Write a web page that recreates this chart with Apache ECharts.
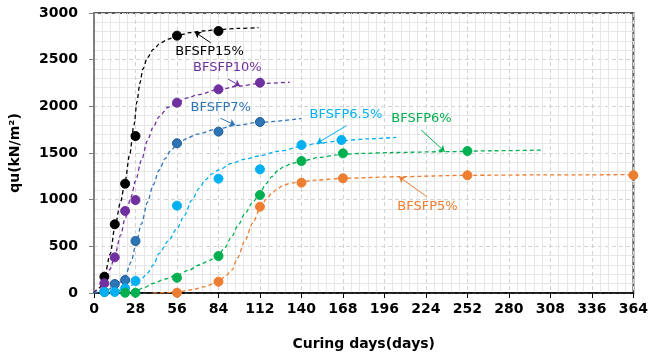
<!DOCTYPE html>
<html>
<head>
<meta charset="utf-8">
<script src="https://cdn.jsdelivr.net/npm/echarts@6/dist/echarts.min.js"></script>
<style>html,body{margin:0;padding:0;background:#fff}#c{width:651px;height:356px}</style>
</head>
<body>
<div id="c"></div>
<script>
// ---- data ----
const xTicks = [0, 28, 56, 84, 112, 140, 168, 196, 224, 252, 280, 308, 336, 364];
const yTicks = [0, 500, 1000, 1500, 2000, 2500, 3000];
const seriesNames = ['BFSFP15%', 'BFSFP10%', 'BFSFP7%', 'BFSFP6.5%', 'BFSFP6%', 'BFSFP5%'];

// measured points [day, qu]
const pts15 = [[7, 175], [14, 736], [21, 1171], [28, 1682], [56, 2757], [84, 2807]];
const pts10 = [[7, 104], [14, 382], [21, 879], [28, 996], [56, 2039], [84, 2182], [112, 2253]];
const pts7 = [[7, 11], [14, 96], [21, 139], [28, 557], [56, 1604], [84, 1729], [112, 1832]];
const pts65 = [[7, 11], [14, 11], [21, 50], [28, 129], [56, 936], [84, 1225], [112, 1325], [140, 1586], [167, 1639]];
const pts6 = [[21, 3], [28, 3], [56, 164], [84, 396], [112, 1050], [140, 1414], [168, 1496], [252, 1521]];
const pts5 = [[56, 3], [84, 121], [112, 925], [140, 1182], [168, 1229], [252, 1261], [364, 1262]];

// fitted curves as drawn
const fit15 = [[0, 0], [4, 60], [7, 170], [11, 420], [14, 700], [18, 980], [21, 1200], [24, 1480], [27, 1800], [29, 2050], [31, 2250], [33, 2400], [36, 2520], [40, 2610], [45, 2680], [50, 2720], [56, 2755], [65, 2790], [75, 2810], [84, 2822], [98, 2835], [111, 2843]];
const fit10 = [[0, 0], [4, 50], [7, 120], [11, 260], [14, 400], [18, 620], [21, 800], [25, 1030], [28, 1200], [32, 1420], [36, 1630], [40, 1780], [44, 1890], [50, 1990], [56, 2040], [63, 2090], [70, 2125], [84, 2180], [98, 2218], [112, 2245], [132, 2258]];
const fit7 = [[0, 0], [7, 20], [14, 70], [18, 120], [21, 180], [25, 330], [28, 500], [32, 740], [36, 970], [40, 1160], [44, 1318], [48, 1440], [52, 1530], [56, 1590], [62, 1650], [69, 1700], [84, 1760], [95, 1795], [112, 1830], [140, 1870]];
const fit65 = [[7, 5], [14, 15], [21, 45], [28, 100], [32, 150], [36, 211], [40, 300], [44, 425], [50, 555], [56, 690], [61, 830], [66, 996], [71, 1120], [75, 1211], [80, 1280], [84, 1318], [93, 1389], [102, 1435], [111, 1468], [125, 1520], [140, 1570], [150, 1600], [167, 1632], [185, 1652], [204, 1668]];
const fit6 = [[21, 0], [28, 20], [34, 60], [40, 104], [48, 150], [56, 193], [64, 245], [71, 300], [78, 350], [84, 407], [88, 480], [93, 603], [97, 720], [102, 854], [107, 970], [112, 1071], [116, 1170], [120, 1246], [124, 1310], [128, 1353], [134, 1390], [140, 1414], [152, 1452], [164, 1479], [180, 1495], [200, 1505], [237, 1514], [270, 1524], [303, 1532]];
const fit5 = [[40, 0], [48, 4], [56, 10], [66, 35], [75, 68], [80, 95], [84, 121], [88, 170], [93, 246], [97, 380], [102, 568], [107, 746], [112, 900], [116, 1000], [120, 1068], [124, 1120], [128, 1157], [134, 1180], [140, 1193], [150, 1210], [168, 1229], [206, 1246], [252, 1261], [300, 1265], [364, 1268]];

// annotation text anchor [day, qu] and arrow [from, to]
const labelPos = [[78, 2582], [90, 2414], [85.5, 1982], [170, 1907], [221, 1864], [225, 925]];
const arrows = [
  [[78.7, 2682], [68, 2797]],
  [[90.4, 2293], [98.6, 2218]],
  [[85.3, 1872], [95.3, 1800]],
  [[170.4, 1793], [150.5, 1604]],
  [[220.8, 1746], [236.7, 1514]],
  [[224.6, 1032], [205.8, 1246]]
];

const colors = ['#000000', '#7030A0', '#2E75B6', '#00B0F0', '#00B050', '#ED7D31'];
const borders = ['#000000', '#7030A0', '#1F5A96', '#00B0F0', '#00B050', '#ED7D31'];
const allPts = [pts15, pts10, pts7, pts65, pts6, pts5];
const allFit = [fit15, fit10, fit7, fit65, fit6, fit5];

const FONT = 'DejaVu Sans';
const series = [];
allFit.forEach((f, i) => {
  series.push({
    type: 'line', data: f, smooth: 0.3, smoothMonotone: 'x', showSymbol: false, silent: true,
    lineStyle: { color: colors[i], width: 1.3, type: [4, 3] },
    z: 2,
    markLine: {
      silent: true, symbol: ['none', 'arrow'], symbolSize: 6,
      lineStyle: { color: colors[i], width: 1, type: 'solid' },
      label: { show: false },
      data: [[{ coord: arrows[i][0] }, { coord: arrows[i][1] }]]
    },
    markPoint: {
      silent: true, symbol: 'circle', symbolSize: 0,
      label: {
        show: true, position: 'inside', formatter: seriesNames[i],
        color: colors[i], fontFamily: FONT, fontSize: 13
      },
      data: [{ coord: labelPos[i] }]
    }
  });
});
allPts.forEach((p, i) => {
  series.push({
    type: 'scatter', name: seriesNames[i], data: p, symbol: 'circle', symbolSize: 9,
    itemStyle: { color: colors[i], borderColor: borders[i], borderWidth: 1, opacity: 1 },
    z: 3
  });
});

const chart = echarts.init(document.getElementById('c'), null, { renderer: 'canvas' });
chart.setOption({
  animation: false,
  backgroundColor: '#fff',
  grid: { left: 93, right: 9, top: 13, bottom: 63, show: true, borderColor: '#595959', borderWidth: 2, backgroundColor: 'transparent' },
  xAxis: {
    type: 'value', min: xTicks[0], max: xTicks[xTicks.length - 1], interval: 28,
    name: 'Curing days(days)', nameLocation: 'middle', nameGap: 44,
    nameTextStyle: { fontFamily: FONT, fontSize: 14, fontWeight: 'bold', color: '#000' },
    axisLine: { show: true, lineStyle: { color: '#000', width: 1.5 } },
    axisTick: { show: true, inside: false, length: 5, lineStyle: { color: '#000' } },
    axisLabel: { fontFamily: FONT, fontSize: 14, fontWeight: 'bold', color: '#000', margin: 9, formatter: v => String(v) },
    splitLine: { show: true, lineStyle: { color: '#d3d3d3', type: [4, 3], width: 1 } },
    minorTick: { show: false, splitNumber: 5 },
    minorSplitLine: { show: true, lineStyle: { color: '#e6e6e6', width: 1 } }
  },
  yAxis: {
    type: 'value', min: yTicks[0], max: yTicks[yTicks.length - 1], interval: 500,
    name: 'qu(kN/m²)', nameLocation: 'middle', nameGap: 72, nameRotate: 90,
    nameTextStyle: { fontFamily: FONT, fontSize: 14, fontWeight: 'bold', color: '#000' },
    axisLine: { show: true, lineStyle: { color: '#7f7f7f', width: 2 } },
    axisTick: { show: true, inside: false, length: 5, lineStyle: { color: '#7f7f7f' } },
    axisLabel: { fontFamily: FONT, fontSize: 14, fontWeight: 'bold', color: '#000', margin: 16, formatter: v => String(v) },
    splitLine: { show: true, lineStyle: { color: '#d3d3d3', type: [4, 3], width: 1 } },
    minorTick: { show: false, splitNumber: 5 },
    minorSplitLine: { show: true, lineStyle: { color: '#e6e6e6', width: 1 } }
  },
  series: series
});
</script>
</body>
</html>
